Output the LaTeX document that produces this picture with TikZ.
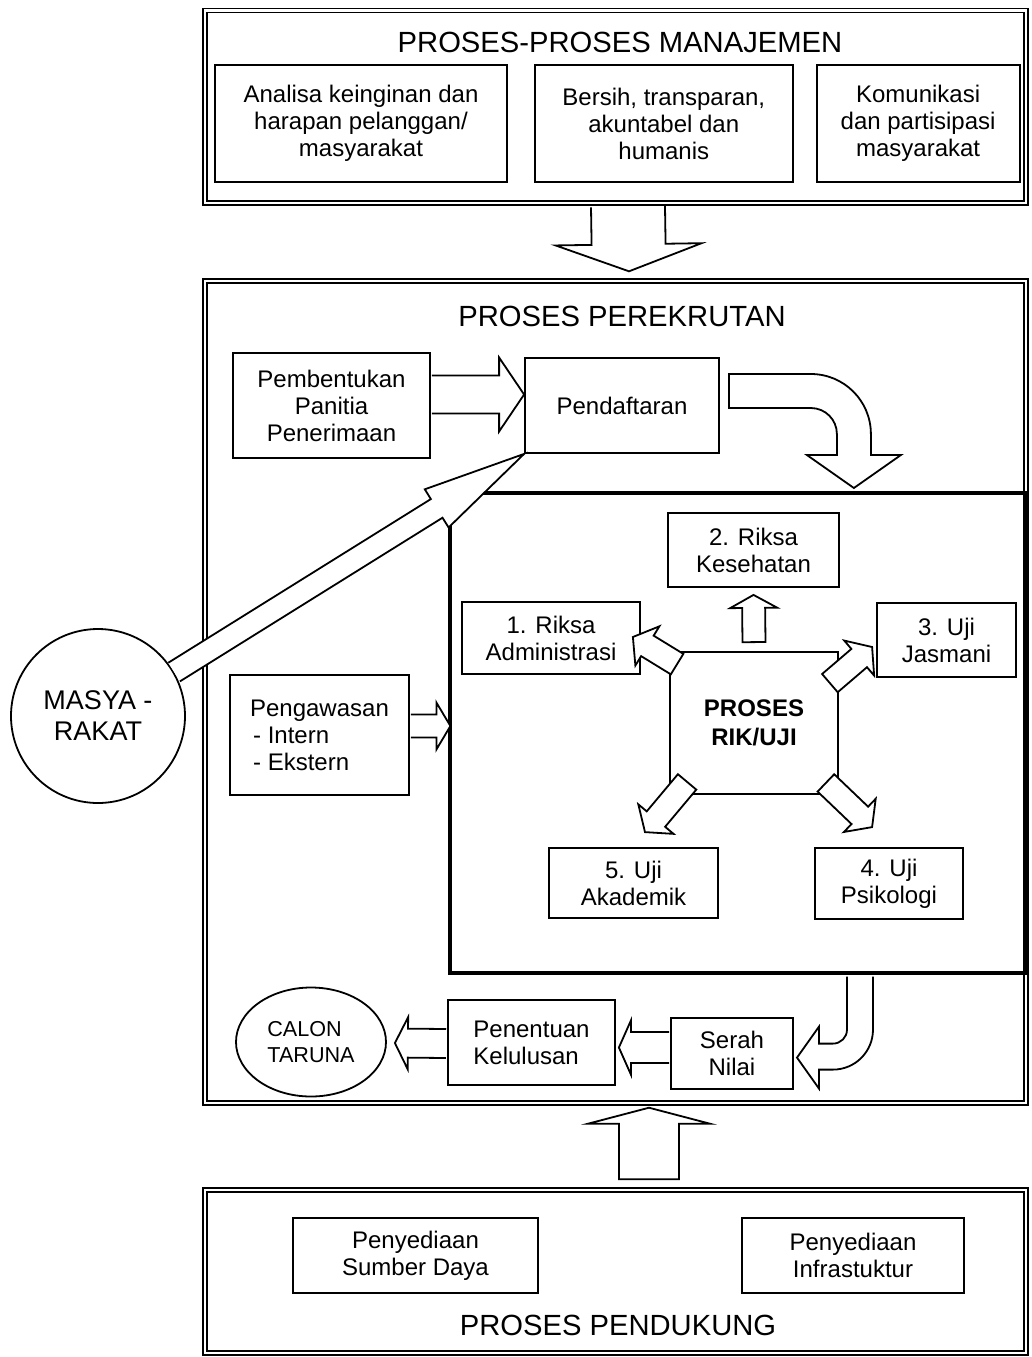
\documentclass[tikz,border=0pt]{standalone}
\usepackage{fontspec}
\setmainfont{Liberation Sans}
\usetikzlibrary{calc,positioning,shapes.geometric}
\tikzset{
  framebox/.style={draw, line width=0.7pt, double, double distance=1.3pt, inner sep=0pt},
  procbox/.style={draw, line width=0.9pt, align=center, inner sep=2pt,
    font=\fontsize{12}{13.5}\selectfont},
  headtext/.style={inner sep=0pt, font=\fontsize{14.6}{17}\selectfont},
  ringnode/.style={draw, line width=0.9pt, circle, align=center, inner sep=0pt},
  areabox/.style={draw, line width=1.6pt, inner sep=0pt},
  fatline/.style={draw, line width=0.9pt, fill=white, line join=miter}
}
\newcommand{\fatarrow}[6][]{%
  \coordinate (fa-a) at #2;
  \coordinate (fa-b) at #3;
  \coordinate (fa-c) at ($(fa-b)!#6!(fa-a)$);
  \path[fatline] ($(fa-a)!#4!90:(fa-b)$) -- ($(fa-c)!#4!-90:(fa-a)$) -- ($(fa-c)!#5!-90:(fa-a)$)
    -- (fa-b) -- ($(fa-c)!#5!90:(fa-a)$) -- ($(fa-c)!#4!90:(fa-a)$) -- ($(fa-a)!#4!-90:(fa-b)$) #1;
}

\begin{document}
\begin{tikzpicture}[x=0.5pt, y=-0.5pt]
    \useasboundingbox (0,0) rectangle (1032,1357);
    \node[framebox, minimum width=410.5pt, minimum height=96.25pt] (manaj) at (615.5,106.75) {};
    \node[framebox, minimum width=410.5pt, minimum height=411pt] (rekrut) at (615.5,692) {};
    \node[framebox, minimum width=410.5pt, minimum height=81.5pt] (dukung) at (615.5,1271.5) {};
    \node[headtext] (manajtitle) at (620,42.5) {PROSES-PROSES MANAJEMEN};
    \node[headtext] (rekruttitle) at (622,316) {PROSES PEREKRUTAN};
    \node[headtext] (dukungtitle) at (618,1325) {PROSES PENDUKUNG};

    \node[procbox, minimum width=146pt, minimum height=58.5pt] (analisa) at (361,123.5) {Analisa keinginan dan\\harapan pelanggan/\\masyarakat};
    \node[procbox, minimum width=129pt, minimum height=58.5pt, right=13pt of analisa] (bersih) {Bersih, transparan,\\akuntabel dan\\humanis};
    \node[procbox, minimum width=101.5pt, minimum height=58.5pt, right=11pt of bersih] (komun) {Komunikasi\\dan partisipasi\\masyarakat};

    \node[procbox, minimum width=98.5pt, minimum height=52.5pt] (pemb) at (331.5,405.5) {Pembentukan\\Panitia\\Penerimaan};
    \node[procbox, minimum width=97pt, minimum height=47.5pt] (daftar) at (622,405.5) {Pendaftaran};
    \node[ringnode, minimum size=87pt, font=\fontsize{13.5}{15.5}\selectfont] (masy) at (98,716) {MASYA -\\RAKAT};
    \node[procbox, minimum width=89.5pt, minimum height=60pt, align=left] (pengaw) at (319.5,735) {Pengawasan\\\hspace*{1.5pt}- Intern\\\hspace*{1.5pt}- Ekstern};

    \node[areabox, minimum width=288.5pt, minimum height=240pt] (rikarea) at (738.5,733) {};
    \node[procbox, minimum width=89pt, minimum height=36pt] (adm) at (551,638) {1. Riksa\\Administrasi};
    \node[procbox, minimum width=85.5pt, minimum height=37pt] (sehat) at (753.5,550) {2. Riksa\\Kesehatan};
    \node[procbox, minimum width=69.5pt, minimum height=37pt] (jasmani) at (946.5,640) {3. Uji\\Jasmani};
    \node[procbox, minimum width=84pt, minimum height=71pt, font=\fontsize{12}{14.5}\selectfont\bfseries] (rik) at (754,723) {PROSES\\RIK/UJI};
    \node[procbox, minimum width=84.5pt, minimum height=35pt] (akad) at (633.5,883) {5. Uji\\Akademik};
    \node[procbox, minimum width=74pt, minimum height=35.5pt] (psiko) at (889,883.5) {4. Uji\\Psikologi};

    \node[ringnode, ellipse, minimum width=75pt, minimum height=54.5pt, align=left, font=\fontsize{10.8}{13}\selectfont] (calon) at (311,1042) {CALON\\TARUNA};
    \node[procbox, minimum width=83.5pt, minimum height=42.5pt, align=left] (tentu) at (531.5,1042.5) {Penentuan\\Kelulusan};
    \node[procbox, minimum width=61pt, minimum height=35.5pt] (serah) at (732,1053.5) {Serah\\Nilai};

    \node[procbox, minimum width=122.5pt, minimum height=37.5pt] (sumber) at (415.5,1255.5) {Penyediaan\\Sumber Daya};
    \node[procbox, minimum width=111pt, minimum height=37.5pt] (infra) at (853,1255.5) {Penyediaan\\Infrastuktur};

    \fatarrow{($(manaj.south)+(12.5,3)$)}{($(rekrut.north)+(13.5,-9)$)}{18.5pt}{36.5pt}{13.5pt}
    \fatarrow{($(pemb.east)+(1,-11)$)}{($(daftar.west)+(0,-11)$)}{9.5pt}{18.5pt}{12.5pt}
    \fatarrow{(masy.30)}{(daftar.south west)}{5.5pt}{11.25pt}{51.5pt}
    \fatarrow{($(pengaw.east)+(1,-9)$)}{($(rikarea.west |- pengaw.east)+(2,-9)$)}{5.75pt}{11.75pt}{7pt}
    \path[fatline] ($(daftar.east)+(9,-31.5)$) -- ++(82,0) arc[start angle=90, end angle=0, radius=30pt]
      -- ++(0,21) -- ++(30,0) -- ++(-47,33) -- ++(-47,-33) -- ++(30,0) -- ++(0,-21)
      arc[start angle=0, end angle=90, radius=13pt] -- ++(-82,0) -- cycle;

    \fatarrow[-- cycle]{($(rik.north)+(0,-9)$)}{($(sehat.south)+(0,7)$)}{5.75pt}{11.75pt}{6.5pt}
    \fatarrow[-- cycle]{($(rik.north west)+(8,13)$)}{($(adm.east)+(-8,-1)$)}{6pt}{11.5pt}{8.5pt}
    \fatarrow[-- cycle]{($(rik.north east)+(-9,32)$)}{($(jasmani.west)+(-4,7)$)}{6pt}{11.5pt}{8.5pt}
    \fatarrow[-- cycle]{($(rik.south east)+(-13,-12)$)}{($(psiko.north west)+(58,-20)$)}{6pt}{11.5pt}{8.5pt}
    \fatarrow[-- cycle]{($(rik.south west)+(18,-13)$)}{($(akad.north)+(11.5,-15)$)}{6pt}{11.5pt}{8.5pt}

    \path[fatline] ($(rikarea.south)+(108.5,2)$) -- ++(0,53) arc[start angle=0, end angle=-90, radius=7pt]
      -- ++(-14,0) -- ++(0,-17) -- ++(-22,31) -- ++(22,31) -- ++(0,-19) -- ++(14,0)
      arc[start angle=-90, end angle=0, radius=20pt] -- ++(0,-53);
    \fatarrow{($(serah.west)+(-1,-6)$)}{($(tentu.east)+(3,5)$)}{7.75pt}{13.5pt}{6pt}
    \fatarrow{($(tentu.west)+(-1,1)$)}{($(calon.east)+(8,1)$)}{7.25pt}{13pt}{6.5pt}
    \fatarrow[-- cycle]{($(dukung.north)+(33.5,-10)$)}{($(rekrut.south)+(33.5,4)$)}{15pt}{30.5pt}{8pt}
  \end{tikzpicture}
\end{document}
